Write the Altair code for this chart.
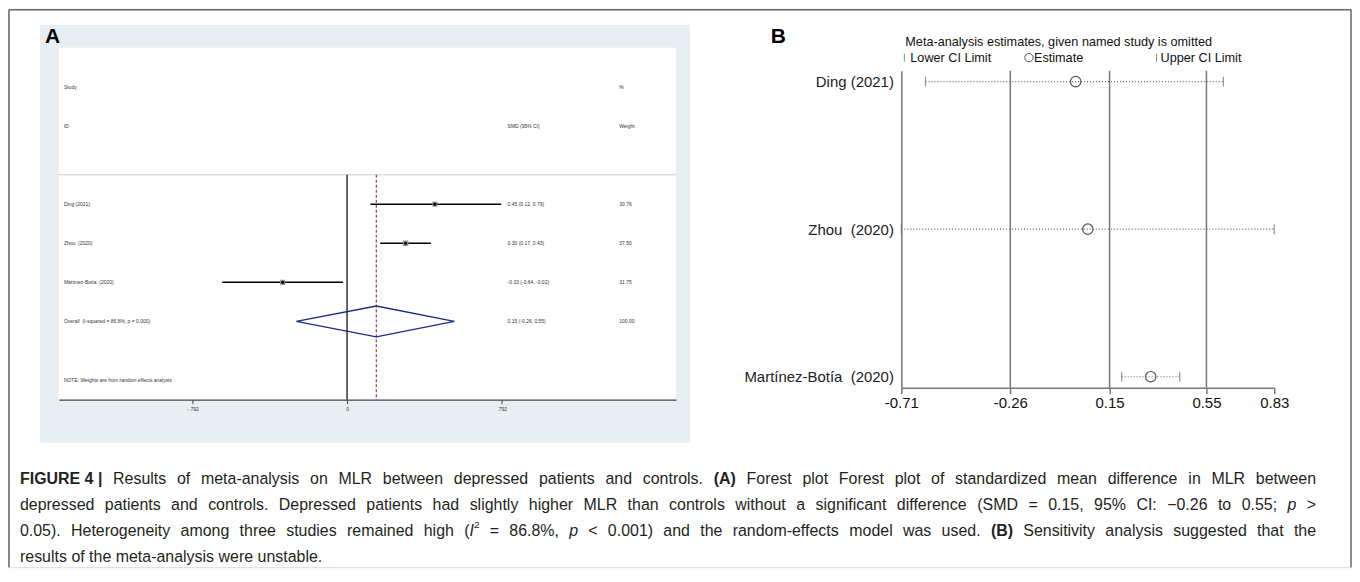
import altair as alt
import pandas as pd

# ---------------- data: panel A (forest plot) ----------------
studies = ["Ding (2021)", "Zhou\u00a0 (2020)", "Martínez-Botía\u00a0 (2020)"]
smd = [0.45, 0.30, -0.33]
ci_lo = [0.12, 0.17, -0.64]
ci_hi = [0.79, 0.43, -0.02]
weights = [30.76, 37.50, 31.75]
overall_est = 0.15
overall_lo = -0.26
overall_hi = 0.55
i_squared = 86.8
overall_p = "0.000"
axis_a_ticks = [-0.792, 0.0, 0.792]

# ---------------- data: panel B (leave-one-out) ----------------
loo_est = [0.01, 0.06, 0.32]
loo_lo = [-0.61, -0.71, 0.20]
loo_hi = [0.62, 0.83, 0.44]
axis_b_ticks = [-0.71, -0.26, 0.15, 0.55, 0.83]
grid_b = [overall_lo, overall_est, overall_hi]

# ---------------- caption text ----------------
caption_lines = [
    [("FIGURE\u00a04\u00a0|", "bold"),
     ("Results of meta-analysis on MLR between depressed patients and controls.", "normal"),
     ("(A)", "bold"),
     ("Forest plot Forest plot of standardized mean difference in MLR between", "normal")],
    [("depressed patients and controls. Depressed patients had slightly higher MLR than controls "
      "without a significant difference (SMD = 0.15, 95% CI: \u22120.26 to 0.55;", "normal"),
     ("p", "italic"), (">", "normal")],
    [("0.05). Heterogeneity among three studies remained high", "normal"),
     ("(", "normal"), ("+I", "italic"), ("+2", "sup"),
     ("= 86.8%,", "normal"), ("p", "italic"),
     ("< 0.001) and the random-effects model was used.", "normal"),
     ("(B)", "bold"),
     ("Sensitivity analysis suggested that the", "normal")],
    [("results of the meta-analysis were unstable.", "normal")],
]

W, H = 1348, 560
FONT = "Liberation Sans"
one = pd.DataFrame({"k": [0]})
MINUS = "\u2212"

# Arial / Liberation Sans advance widths (1/1000 em)
REG = {" ": 278, "\u00a0": 278, "%": 889, "(": 333, ")": 333, ",": 278, "-": 333, ".": 278,
       ":": 278, ";": 278, "<": 584, "=": 584, ">": 584, "|": 260, "\u2212": 584}
for c in "0123456789":
    REG[c] = 556
REG.update(dict(zip("ABCDEFGHIJKLMNOPQRSTUVWXYZ",
                    [667, 667, 722, 722, 667, 611, 778, 722, 278, 500, 667, 556, 833, 722, 778,
                     667, 778, 722, 667, 611, 722, 667, 944, 667, 667, 611])))
REG.update(dict(zip("abcdefghijklmnopqrstuvwxyz",
                    [556, 556, 500, 556, 556, 278, 556, 556, 222, 222, 500, 222, 833, 556, 556,
                     556, 556, 333, 500, 278, 556, 500, 722, 500, 500, 500])))
BOLD = dict(REG)
BOLD.update({"|": 280, "A": 722, "B": 722, "R": 722, "U": 722, "G": 778})

CS = 16          # caption font size
SUP = 10         # superscript size
CX0, CX1 = 12, 1312
CY = [472, 498, 524, 550]


def wlen(word, style):
    table = BOLD if style == "bold" else REG
    size = SUP if style == "sup" else CS
    return sum(table.get(ch, 556) for ch in word) * size / 1000.0


words = []
for li, line in enumerate(caption_lines):
    toks = []
    for seg, style in line:
        attach = seg.startswith("+")
        seg = seg.lstrip("+")
        for j, wd in enumerate(seg.split(" ")):
            toks.append((wd, style, attach and j == 0))
    n_gaps = sum(1 for i, t in enumerate(toks) if i > 0 and not t[2])
    natural = sum(wlen(t[0], t[1]) for t in toks) + n_gaps * REG[" "] * CS / 1000.0
    justify = li < len(caption_lines) - 1
    gap = REG[" "] * CS / 1000.0 + ((CX1 - CX0 - natural) / n_gaps if justify else 0)
    x = CX0
    for i, (wd, style, att) in enumerate(toks):
        if i > 0 and not att:
            x += gap
        words.append({"text": wd, "x": x, "y": CY[li], "style": style})
        x += wlen(wd, style)
words = pd.DataFrame(words)

layers = []

# ---------------- frame ----------------
for enc in [dict(x=alt.value(1), y=alt.value(1), y2=alt.value(H)),
            dict(x=alt.value(1), x2=alt.value(W - 1), y=alt.value(1)),
            dict(x=alt.value(W - 1), y=alt.value(1), y2=alt.value(H))]:
    layers.append(alt.Chart(one).mark_rule(color="#666", strokeWidth=1.5).encode(**enc))

# ---------------- panel A ----------------
A_X = alt.Scale(domain=[-1.477, 1.686], range=[51, 670], nice=False, zero=False)
A_Y = alt.Scale(domain=[-3, 6], range=[39, 392], nice=False, zero=False)
axisA = alt.Axis(orient="bottom", offset=392 - H, values=axis_a_ticks, zindex=2,
                 labelExpr="datum.value == 0 ? '0' : replace(replace(format(datum.value, '.3f'), '"
                           + MINUS + "', '-'), '0.', '.')",
                 title=None, grid=False, domainColor="#444", domainWidth=1.2,
                 tickColor="#444", tickSize=4, labelFontSize=5, labelColor="#333",
                 labelPadding=3, labelFont=FONT)

rows = pd.DataFrame({"study": studies, "smd": smd, "lo": ci_lo, "hi": ci_hi,
                     "w": weights, "row": [1, 2, 3]})

lab_text = ["Study", "ID"] + studies + [
    f"Overall\u00a0 (I-squared = {i_squared}%, p = {overall_p})",
    "NOTE: Weights are from random effects analysis"]
lab_rows = [-2, -1, 1, 2, 3, 4, 5.5]
smd_text = ["SMD (95% CI)"] + [f"{s:.2f} ({l:.2f}, {h:.2f})" for s, l, h in zip(smd, ci_lo, ci_hi)] + [
    f"{overall_est:.2f} ({overall_lo:.2f}, {overall_hi:.2f})"]
smd_rows = [-1, 1, 2, 3, 4]
w_text = ["%", "Weight"] + [f"{w:.2f}" for w in weights] + ["100.00"]
w_rows = [-2, -1, 1, 2, 3, 4]

half = 0.395
diamond = pd.DataFrame({
    "x": [overall_lo, overall_est, overall_hi, overall_est, overall_lo],
    "y": [4, 4 - half, 4, 4 + half, 4],
    "o": [0, 1, 2, 3, 4]})


def xa(f, axis=None):
    return alt.X(f, type="quantitative", scale=A_X, axis=axis)


def ya(f):
    return alt.Y(f, type="quantitative", scale=A_Y, axis=None)


def xda(v):
    return alt.XDatum(v, type="quantitative", scale=A_X, axis=None)


def yda(v):
    return alt.YDatum(v, type="quantitative", scale=A_Y, axis=None)


layers += [
    alt.Chart(one).mark_rect(fill="#e8eff2").encode(
        x=alt.value(32), x2=alt.value(684), y=alt.value(16), y2=alt.value(435)),
    alt.Chart(one).mark_rect(fill="white").encode(
        x=alt.value(51), x2=alt.value(670), y=alt.value(39), y2=alt.value(392)),
    alt.Chart(one).mark_text(text="A", fontSize=21, fontWeight="bold", font=FONT,
                             align="left", baseline="middle", color="black").encode(
        x=alt.value(37), y=alt.value(28)),
    alt.Chart(one).mark_rule(color="#cdcdcd", strokeWidth=1).encode(
        x=alt.value(51), x2=alt.value(670), y=yda(0.25)),
    alt.Chart(one).mark_rule(color="black", strokeWidth=1.2).encode(
        x=xda(0), y=yda(0.25), y2=alt.Y2Datum(6)),
    alt.Chart(one).mark_rule(color="#a83a3a", strokeWidth=1.2, strokeDash=[3, 2]).encode(
        x=xda(overall_est), y=yda(0.25), y2=alt.Y2Datum(6)),
    alt.Chart(rows).mark_rule(color="black", strokeWidth=1.5).encode(
        x=xa("lo", axisA), x2="hi", y=ya("row")),
    alt.Chart(rows).mark_square(color="#9a9a9a", opacity=1).encode(
        x=xa("smd"), y=ya("row"),
        size=alt.Size("w:Q", scale=alt.Scale(domain=[0, 40], range=[0, 34]), legend=None)),
    alt.Chart(rows).mark_point(shape="circle", filled=True, color="black", size=10, opacity=1).encode(
        x=xa("smd"), y=ya("row")),
    alt.Chart(diamond).mark_line(color="#1b2a84", strokeWidth=1.3).encode(
        x=xa("x"), y=ya("y"), order="o:Q"),
]

for texts, rrows, xval in [(lab_text, lab_rows, -1.451), (smd_text, smd_rows, 0.823),
                           (w_text, w_rows, 1.395)]:
    df = pd.DataFrame({"text": texts, "row": rrows})
    layers.append(alt.Chart(df).mark_text(align="left", baseline="middle", fontSize=5,
                                          font=FONT, color="#333").encode(
        x=xda(xval), y=ya("row"), text="text:N"))

# ---------------- panel B ----------------
B_X = alt.Scale(domain=[-0.71, 0.83], range=[896, 1270], nice=False, zero=False)
B_Y = alt.Scale(type="point", domain=studies, range=[62, 380], padding=0.0743)
axisBx = alt.Axis(orient="bottom", offset=380 - H, values=axis_b_ticks, title=None,
                  labelExpr="replace(format(datum.value, '.2f'), '" + MINUS + "', '-')",
                  grid=False, domainColor="#777", domainWidth=1.5, tickColor="#777", tickWidth=1.5,
                  tickSize=6, labelFontSize=15, labelFont=FONT, labelColor="#111", labelPadding=2,
                  labelFlush=False, zindex=2)
axisBy = alt.Axis(orient="left", offset=-896, title=None, ticks=False, domainColor="#777",
                  domainWidth=1.5, labelFontSize=15, labelFont=FONT, labelColor="#222",
                  labelPadding=8, grid=False, zindex=2)

loo = pd.DataFrame({"study": studies, "est": loo_est, "lo": loo_lo, "hi": loo_hi})
gdf = pd.DataFrame({"v": grid_b})

layers += [
    alt.Chart(gdf).mark_rule(color="#777", strokeWidth=1.5).encode(
        x=alt.X("v:Q", scale=B_X, axis=None), y=alt.value(62), y2=alt.value(380)),
    alt.Chart(loo).mark_rule(color="#666", strokeWidth=1.2, strokeDash=[1, 2]).encode(
        x=alt.X("lo:Q", scale=B_X, axis=axisBx), x2="hi:Q",
        y=alt.Y("study:N", scale=B_Y, axis=axisBy)),
    alt.Chart(loo).transform_fold(["lo", "hi"]).mark_tick(
        orient="vertical", size=10, thickness=1.2, color="#666").encode(
        x=alt.X("value:Q", scale=B_X, axis=None), y=alt.Y("study:N", scale=B_Y, axis=None)),
    alt.Chart(loo).mark_point(shape="circle", filled=False, size=110, color="#555",
                              strokeWidth=1.2, opacity=1).encode(
        x=alt.X("est:Q", scale=B_X, axis=None), y=alt.Y("study:N", scale=B_Y, axis=None)),
]


def txt(s, x, y, size=12.7, weight="normal", color="#111", align="left"):
    return alt.Chart(one).mark_text(text=s, align=align, baseline="middle", fontSize=size,
                                    fontWeight=weight, font=FONT, color=color).encode(
        x=alt.value(x), y=alt.value(y))


layers += [
    txt("B", 765, 28, size=21, weight="bold", color="black"),
    txt("Meta-analysis estimates, given named study is omitted", 900, 33),
    alt.Chart(one).mark_rule(color="#888", strokeWidth=1).encode(
        x=alt.value(899), y=alt.value(45), y2=alt.value(53)),
    txt("Lower CI Limit", 905, 49),
    alt.Chart(one).mark_point(shape="circle", filled=False, size=70, color="#555",
                              strokeWidth=1, opacity=1).encode(x=alt.value(1024), y=alt.value(49)),
    txt("Estimate", 1029, 49),
    alt.Chart(one).mark_rule(color="#888", strokeWidth=1).encode(
        x=alt.value(1152), y=alt.value(45), y2=alt.value(53)),
    txt("Upper CI Limit", 1156, 49),
]

# ---------------- caption ----------------
PX = alt.Scale(domain=[0, W], range=[0, W], nice=False, zero=False)
PY = alt.Scale(domain=[0, H], range=[0, H], nice=False, zero=False)
for style, props in [("normal", {}), ("bold", {"fontWeight": "bold"}),
                     ("italic", {"fontStyle": "italic"}), ("sup", {"fontSize": SUP, "dy": -6})]:
    sub = words[words["style"] == style]
    base = dict(align="left", baseline="middle", fontSize=CS, font=FONT, color="#231f20")
    base.update(props)
    layers.append(alt.Chart(sub).mark_text(**base).encode(
        x=alt.X("x:Q", scale=PX, axis=None), y=alt.Y("y:Q", scale=PY, axis=None), text="text:N"))

chart = alt.layer(*layers).resolve_scale(
    x="independent", y="independent", size="independent"
).properties(width=W, height=H, padding=0).configure_view(strokeWidth=0).configure(background="white")

chart.save("out.html", embed_options={"renderer": "svg", "actions": False})
